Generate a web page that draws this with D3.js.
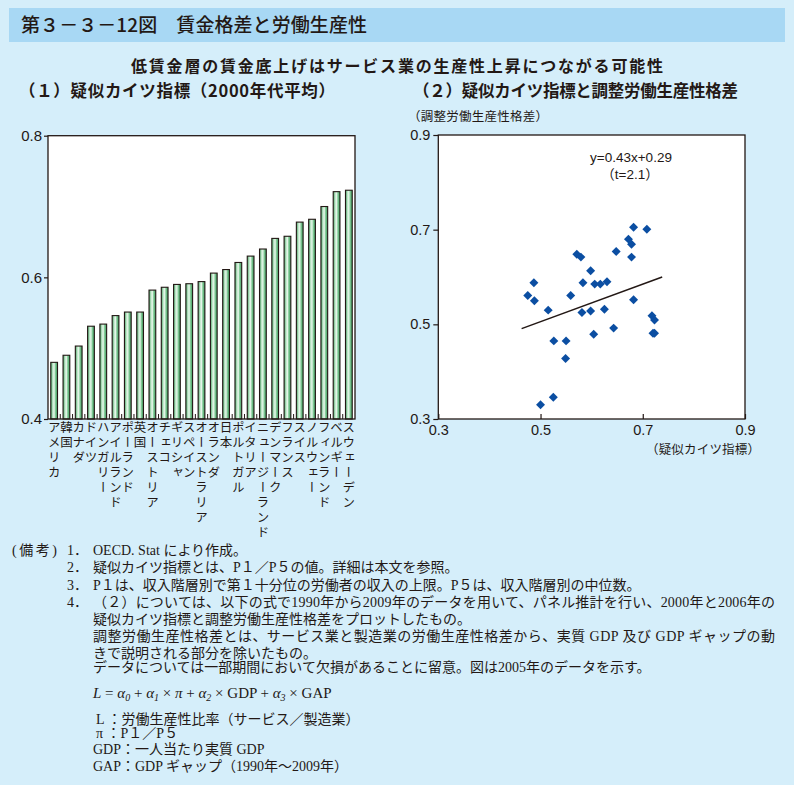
<!DOCTYPE html>
<html><head><meta charset="utf-8">
<script src="https://cdn.jsdelivr.net/npm/d3@7"></script>
<style>
html,body{margin:0;padding:0;background:#D5EEFA;}
svg{display:block;}
</style></head>
<body>
<svg id="chart" width="794" height="785"></svg>
<script>
// ---------- data ----------
const categories = ["アメリカ","韓国","カナダ","ドイツ","ハンガリー","アイルランド","ポーランド","英国","オーストリア","チェコ","ギリシャ","スペイン","オーストラリア","オランダ","日本","ポルトガル","イタリア","ニュージーランド","デンマーク","フランス","スイス","ノルウェー","フィンランド","ベルギー","スウェーデン"];
const kaitzValues = [0.480,0.490,0.503,0.531,0.534,0.546,0.551,0.551,0.582,0.586,0.590,0.591,0.594,0.606,0.611,0.621,0.630,0.640,0.655,0.658,0.678,0.682,0.700,0.721,0.723];
const barTicks = [0.4,0.6,0.8];

const scatterX = [0.475,0.487,0.488,0.515,0.526,0.525,0.500,0.550,0.549,0.559,0.571,0.579,0.583,0.581,0.598,0.598,0.604,0.606,0.617,0.630,0.625,0.643,0.648,0.672,0.678,0.682,0.678,0.682,0.708,0.718,0.723,0.720,0.723];
const scatterY = [0.561,0.588,0.550,0.530,0.465,0.346,0.330,0.465,0.428,0.561,0.648,0.642,0.588,0.525,0.613,0.528,0.479,0.585,0.585,0.590,0.532,0.492,0.654,0.680,0.669,0.705,0.642,0.552,0.701,0.518,0.509,0.481,0.481];
const fitX = [0.463,0.738];
const fitY = [0.491,0.600];
const scatterTicks = [0.3,0.5,0.7,0.9];
const fitLabel = ["y=0.43x+0.29","（t=2.1）"];

const mainTitle = "第３－３－12図　賃金格差と労働生産性";
const subTitle = "低賃金層の賃金底上げはサービス業の生産性上昇につながる可能性";
const title1 = "（１）疑似カイツ指標（2000年代平均）";
const title2 = "（２）疑似カイツ指標と調整労働生産性格差";
const yLabel2 = "（調整労働生産性格差）";
const xLabel2 = "（疑似カイツ指標）";

const noteHead = "(備考)";
const noteNums = ["1．","2．","3．","4．"];
const noteLines = [
 "OECD. Stat により作成。",
 "疑似カイツ指標とは、P１／P５の値。詳細は本文を参照。",
 "P１は、収入階層別で第１十分位の労働者の収入の上限。P５は、収入階層別の中位数。",
 "（２）については、以下の式で1990年から2009年のデータを用いて、パネル推計を行い、2000年と2006年の",
 "疑似カイツ指標と調整労働生産性格差をプロットしたもの。",
 "調整労働生産性格差とは、サービス業と製造業の労働生産性格差から、実質 GDP 及び GDP ギャップの動",
 "きで説明される部分を除いたもの。",
 "データについては一部期間において欠損があることに留意。図は2005年のデータを示す。"
];
const defLines = ["L ：労働生産性比率（サービス／製造業）","π ：P１／P５","GDP：一人当たり実質 GDP","GAP：GDP ギャップ（1990年～2009年）"];

// ---------- setup ----------
const svg = d3.select("#chart");
const INK = "#231815";
const SANS = "'Liberation Sans', Arial, 'Noto Sans CJK JP', sans-serif";
const JP = "'Noto Sans CJK JP', 'Liberation Sans', sans-serif";
const SERIF = "'Liberation Serif', 'Noto Sans CJK JP', serif";

svg.append("rect").attr("width",794).attr("height",785).attr("fill","#D5EEFA");
svg.append("rect").attr("x",9).attr("y",8).attr("width",776).attr("height",34).attr("fill","#A8D8F4");

svg.append("text").attr("x",21).attr("y",32).attr("font-family",JP).attr("font-size",19).attr("font-weight",500)
  .attr("fill",INK).attr("textLength",346).attr("lengthAdjust","spacing").text(mainTitle);
svg.append("text").attr("x",131).attr("y",72).attr("font-family",JP).attr("font-size",16).attr("font-weight",700)
  .attr("fill",INK).attr("textLength",532).attr("lengthAdjust","spacing").text(subTitle);
svg.append("text").attr("x",19).attr("y",97).attr("font-family",JP).attr("font-size",16.5).attr("font-weight",700)
  .attr("fill",INK).attr("textLength",316).attr("lengthAdjust","spacing").text(title1);
svg.append("text").attr("x",413).attr("y",97).attr("font-family",JP).attr("font-size",16.5).attr("font-weight",700)
  .attr("fill",INK).attr("textLength",325).attr("lengthAdjust","spacing").text(title2);
svg.append("text").attr("x",408).attr("y",121).attr("font-family",JP).attr("font-size",12.5)
  .attr("fill",INK).attr("textLength",140).attr("lengthAdjust","spacing").text(yLabel2);

// ---------- bar chart ----------
const L = {x0:48, x1:355, y0:135.7, y1:419};
const xb = d3.scaleBand().domain(categories).range([L.x0,L.x1]).paddingInner(0.45).paddingOuter(0.225);
const yb = d3.scaleLinear().domain([0.4,0.8]).range([L.y1,L.y0]);

const defs = svg.append("defs");
const grad = defs.append("linearGradient").attr("id","barGrad").attr("x1","0%").attr("x2","100%").attr("y1","0%").attr("y2","0%");
[["0%","#3F9C5E"],["30%","#BFE7C9"],["50%","#E6F6EA"],["68%","#86CD9A"],["100%","#3A955A"]].forEach(s=>grad.append("stop").attr("offset",s[0]).attr("stop-color",s[1]));

svg.append("rect").attr("x",L.x0).attr("y",L.y0).attr("width",L.x1-L.x0).attr("height",L.y1-L.y0).attr("fill","#fff");

svg.append("g").selectAll("rect").data(categories).join("rect")
  .attr("x",d=>xb(d)).attr("width",xb.bandwidth())
  .attr("y",(d,i)=>yb(kaitzValues[i])).attr("height",(d,i)=>L.y1-yb(kaitzValues[i]))
  .attr("fill","url(#barGrad)").attr("stroke",INK).attr("stroke-width",1.1);

// category boundary ticks (inside bottom)
const step = xb.step();
svg.append("g").selectAll("line").data(d3.range(1,categories.length)).join("line")
  .attr("x1",i=>L.x0+i*step).attr("x2",i=>L.x0+i*step).attr("y1",L.y1).attr("y2",L.y1-5)
  .attr("stroke",INK).attr("stroke-width",1);

// frame
svg.append("rect").attr("x",L.x0).attr("y",L.y0).attr("width",L.x1-L.x0).attr("height",L.y1-L.y0)
  .attr("fill","none").attr("stroke",INK).attr("stroke-width",1.3);

// y axis
const gyb = svg.append("g").attr("transform",`translate(${L.x0},0)`)
  .call(d3.axisLeft(yb).tickValues(barTicks).tickFormat(d3.format(".1f")).tickSize(4).tickPadding(2));
gyb.select(".domain").remove();
gyb.selectAll("line").attr("stroke",INK).attr("stroke-width",1.2);
gyb.selectAll("text").attr("font-family",SANS).attr("font-size",15).attr("fill",INK);

// vertical category labels
svg.append("g").selectAll("text").data(categories).join("text")
  .attr("x",d=>xb(d)+xb.bandwidth()/2).attr("y",421)
  .attr("writing-mode","vertical-rl")
  .style("writing-mode","vertical-rl")
  .attr("font-family",JP).attr("font-size",12.5).attr("letter-spacing",2.5)
  .attr("fill",INK).text(d=>d);

// ---------- scatter ----------
const R = {x0:438.3, x1:745, y0:135, y1:419};
const xs = d3.scaleLinear().domain([0.3,0.9]).range([R.x0,R.x1]);
const ys = d3.scaleLinear().domain([0.3,0.9]).range([R.y1,R.y0]);

svg.append("rect").attr("x",R.x0).attr("y",R.y0).attr("width",R.x1-R.x0).attr("height",R.y1-R.y0)
  .attr("fill","#fff").attr("stroke",INK).attr("stroke-width",1.3);

const gys = svg.append("g").attr("transform",`translate(${R.x0},0)`)
  .call(d3.axisLeft(ys).tickValues(scatterTicks).tickFormat(d3.format(".1f")).tickSize(5).tickPadding(3));
gys.select(".domain").remove();
gys.selectAll("line").attr("stroke",INK).attr("stroke-width",1.2);
gys.selectAll("text").attr("font-family",SANS).attr("font-size",14.5).attr("fill",INK);

const gxs = svg.append("g").attr("transform",`translate(0,${R.y1})`)
  .call(d3.axisTop(xs).tickValues(scatterTicks).tickFormat(d3.format(".1f")).tickSize(5));
gxs.select(".domain").remove();
gxs.selectAll("line").attr("stroke",INK).attr("stroke-width",1.2);
gxs.selectAll("text").attr("y",16).attr("dy","0").attr("font-family",SANS).attr("font-size",14.5).attr("fill",INK);

svg.append("text").attr("x",646).attr("y",454).attr("font-family",JP).attr("font-size",12.5)
  .attr("fill",INK).attr("textLength",114).attr("lengthAdjust","spacing").text(xLabel2);

// regression line
svg.append("line").attr("x1",xs(fitX[0])).attr("y1",ys(fitY[0])).attr("x2",xs(fitX[1])).attr("y2",ys(fitY[1]))
  .attr("stroke",INK).attr("stroke-width",1.5);

// points
const diamond = d3.symbol(d3.symbolSquare, 40);
svg.append("g").selectAll("path").data(scatterX).join("path")
  .attr("d",diamond)
  .attr("transform",(d,i)=>`translate(${xs(d)},${ys(scatterY[i])}) rotate(45)`)
  .attr("fill","#0B4EA2");

svg.append("text").attr("x",631).attr("y",162).attr("text-anchor","middle").attr("font-family",SANS).attr("font-size",13.5).attr("fill",INK).text(fitLabel[0]);
svg.append("text").attr("x",630).attr("y",179).attr("text-anchor","middle").attr("font-family",SANS).attr("font-size",13.5).attr("fill",INK).text(fitLabel[1]);

// ---------- notes ----------
const notes = svg.append("g").attr("font-family",SERIF).attr("font-size",14).attr("fill",INK);
notes.append("text").attr("x",12).attr("y",555).attr("textLength",45).attr("lengthAdjust","spacing").text(noteHead);
const numY = [555,572,590,607];
noteNums.forEach((n,i)=>notes.append("text").attr("x",67).attr("y",numY[i]).text(n));
const lineY = [555,572,590,607,624,641,658,672];
const lineFit = [null,null,null,682,null,682,null,null];
noteLines.forEach((t,i)=>{
  const tx = notes.append("text").attr("x",93).attr("y",lineY[i]).text(t);
  if(lineFit[i]) tx.attr("textLength",lineFit[i]).attr("lengthAdjust","spacing");
});

// formula
const f = notes.append("text").attr("x",93).attr("y",698).attr("font-size",15);
const parts = [["L",1,0],[" = ",0,0],["α",1,0],["0",1,1],[" + ",0,0],["α",1,0],["1",1,1],[" × ",0,0],["π",1,0],[" + ",0,0],["α",1,0],["2",1,1],[" × GDP + ",0,0],["α",1,0],["3",1,1],[" × GAP",0,0]];
let prevSub = false;
parts.forEach(p=>{
  const ts = f.append("tspan").text(p[0]);
  if(p[1]) ts.attr("font-style","italic");
  if(p[2]){ ts.attr("font-size",10).attr("dy",3); prevSub = true; }
  else if(prevSub){ ts.attr("dy",-3); prevSub = false; }
});
const defY = [724,738,754,771];
defLines.forEach((t,i)=>notes.append("text").attr("x",i<2?96:93).attr("y",defY[i]).text(t));
</script>
</body></html>
